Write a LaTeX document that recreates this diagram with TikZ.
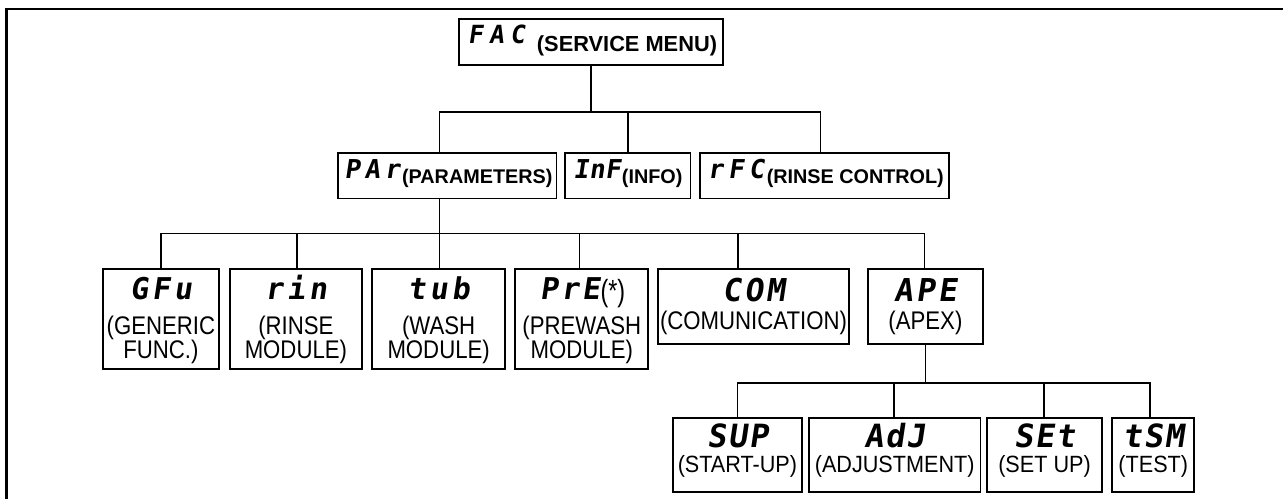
\documentclass[tikz,border=0pt]{standalone}
\usepackage{fontspec}
\setmainfont{Liberation Sans}
\newfontfamily\segf{DejaVu Sans Mono}[FakeSlant=0.15]
\newfontfamily\narrowf{Liberation Sans}[FakeStretch=0.87]
\newfontfamily\narrowg{Liberation Sans}[FakeStretch=0.92]
% display code: font size, cell pitch, three characters
\newcommand{\dsp}[5]{{\segf\bfseries\fontsize{#1}{#1}\selectfont\makebox[#2][c]{#3}\makebox[#2][c]{#4}\makebox[#2][c]{#5}}}
% three centred rows, baseline = first row
\newcommand{\threel}[3]{\vtop{\lineskiplimit=-100pt\baselineskip=24.5pt\halign{\hfil##\hfil\cr#1\cr\noalign{\vskip 10.5pt}#2\cr#3\cr}}}
% two centred rows with given baseline distance
\newcommand{\twol}[3]{\vtop{\lineskiplimit=-100pt\baselineskip=#1\halign{\hfil##\hfil\cr#2\cr#3\cr}}}
\newcommand{\astk}{\raisebox{-2pt}{\scalebox{1.05}[1.2]{(*)}}}
\begin{document}
\begin{tikzpicture}[x=1pt,y=-1pt,
  bx/.style={draw=black, line width=1.7pt, inner sep=0pt, outer sep=0pt},
  conn/.style={draw=black, line width=1.6pt},
  frame/.style={draw=black, line width=2.5pt},
  tl/.style={anchor=base, inner sep=0pt, font=\narrowf\fontsize{25.5}{24.5}\selectfont},
  tlf/.style={anchor=base, inner sep=0pt, font=\narrowg\fontsize{23.5}{24}\selectfont},
  tb/.style={anchor=base, inner sep=0pt, font=\bfseries\fontsize{19.8}{22}\selectfont},
  tbl/.style={anchor=base, inner sep=0pt, font=\bfseries\fontsize{21.8}{24}\selectfont}]
\useasboundingbox (0,0) rectangle (1283,499);
\draw[frame] (6.5,499) -- (6.5,9) -- (1283,9);

% level 1
\node[bx, minimum width=264pt, minimum height=46pt] (fac) at (591,42) {};
\node[tbl] (fac-t) at (591,51) {\raisebox{8pt}{\dsp{25}{21pt}{F}{A}{C}}\hspace{9pt}(SERVICE MENU)};

% level 2
\node[bx, minimum width=218.5pt, minimum height=45.5pt] (par) at (447.25,175.75) {};
\node[tb] (par-t) at (447.25,183) {\raisebox{5pt}{\dsp{26}{20pt}{P}{A}{r}}\hspace{0pt}(PARAMETERS)};
\node[bx, minimum width=125.4pt, minimum height=45.5pt] (inf) at (627.7,175.75) {};
\node[tb] (inf-t) at (627.7,183) {\raisebox{5pt}{\dsp{26}{16pt}{I}{n}{F}}\hspace{1pt}(INFO)};
\node[bx, minimum width=248.5pt, minimum height=45.5pt] (rfc) at (824.55,175.75) {};
\node[tb] (rfc-t) at (824.55,183) {\raisebox{5pt}{\dsp{26}{20.5pt}{r}{F}{C}}\hspace{0pt}(RINSE CONTROL)};

% level 3
\node[bx, minimum width=115.9pt, minimum height=100pt] (gfu) at (160.85,319.3) {};
\node[tl] (gfu-t) at (160.85,299) {\threel{\dsp{30}{22pt}{G}{F}{u}}{(GENERIC}{FUNC.)}};
\node[bx, minimum width=132pt, minimum height=100pt] (rin) at (295.9,319.3) {};
\node[tl] (rin-t) at (295.9,299) {\threel{\dsp{30}{22pt}{r}{i}{n}}{(RINSE}{MODULE)}};
\node[bx, minimum width=133.3pt, minimum height=100pt] (tub) at (438.65,319.3) {};
\node[tl] (tub-t) at (438.65,299) {\threel{\dsp{30}{22pt}{t}{u}{b}}{(WASH}{MODULE)}};
\node[bx, minimum width=133pt, minimum height=100pt] (pre) at (581.8,319.3) {};
\node[tl] (pre-t) at (581.8,299) {\threel{\dsp{30}{21pt}{P}{r}{E}\kern-1pt\astk}{(PREWASH}{MODULE)}};
\node[bx, minimum width=191pt, minimum height=74.7pt] (com) at (753.5,306.65) {};
\node[tl] (com-t) at (753.5,301.5) {\twol{28pt}{\dsp{31.5}{22pt}{C}{O}{M}}{(COMUNICATION)}};
\node[bx, minimum width=114.8pt, minimum height=74.7pt] (ape) at (925.4,306.65) {};
\node[tl] (ape-t) at (925.4,301.5) {\twol{28pt}{\dsp{31.5}{22pt}{A}{P}{E}}{(APEX)}};

% level 4
\node[bx, minimum width=129.2pt, minimum height=74.3pt] (sup) at (737.4,454.85) {};
\node[tlf] (sup-t) at (737.4,447) {\twol{25pt}{\dsp{32}{21pt}{S}{U}{P}}{(START-UP)}};
\node[bx, minimum width=171.4pt, minimum height=74.3pt] (adj) at (894.7,454.85) {};
\node[tlf] (adj-t) at (894.7,447) {\twol{25pt}{\dsp{32}{21pt}{A}{d}{J}}{(ADJUSTMENT)}};
\node[bx, minimum width=115pt, minimum height=74.3pt] (set) at (1044.5,454.85) {};
\node[tlf] (set-t) at (1044.5,447) {\twol{25pt}{\dsp{32}{21pt}{S}{E}{t}}{(SET UP)}};
\node[bx, minimum width=82pt, minimum height=74.3pt] (tsm) at (1153.3,454.85) {};
\node[tlf] (tsm-t) at (1153.3,447) {\twol{25pt}{\dsp{32}{21pt}{t}{S}{M}}{(TEST)}};

% connectors level 1 -> 2
\coordinate (a1) at (439.6,111.7);
\coordinate (a2) at (627.8,111.7);
\coordinate (a3) at (820.4,111.7);
\draw[conn] (fac.south) -- (fac.south |- a1);
\draw[conn] (a1 |- par.north) -- (a1) -- (a3) -- (a3 |- rfc.north);
\draw[conn] (a2) -- (a2 |- inf.north);

% connectors level 2 -> 3
\coordinate (b1) at (161,233.5);
\coordinate (b2) at (296.7,233.5);
\coordinate (b3) at (439.6,233.5);
\coordinate (b4) at (579.6,233.5);
\coordinate (b5) at (738,233.5);
\coordinate (b6) at (924.5,233.5);
\draw[conn] (b3 |- par.south) -- (b3);
\draw[conn] (b1 |- gfu.north) -- (b1) -- (b6) -- (b6 |- ape.north);
\draw[conn] (b2) -- (b2 |- rin.north);
\draw[conn] (b3) -- (b3 |- tub.north);
\draw[conn] (b4) -- (b4 |- pre.north);
\draw[conn] (b5) -- (b5 |- com.north);

% connectors level 3 -> 4
\coordinate (c1) at (737.6,382.7);
\coordinate (c2) at (894,382.7);
\coordinate (c3) at (1044,382.7);
\coordinate (c4) at (1150,382.7);
\draw[conn] (ape.south) -- (ape.south |- c1);
\draw[conn] (c1 |- sup.north) -- (c1) -- (c4) -- (c4 |- tsm.north);
\draw[conn] (c2) -- (c2 |- adj.north);
\draw[conn] (c3) -- (c3 |- set.north);
\end{tikzpicture}
\end{document}
